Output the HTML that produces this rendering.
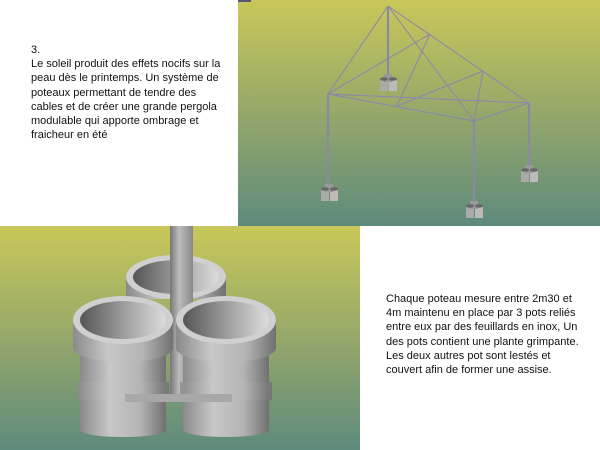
<!DOCTYPE html>
<html><head><meta charset="utf-8"><style>
html,body{margin:0;padding:0;background:#fff;}
body{width:600px;height:450px;position:relative;overflow:hidden;font-family:"Liberation Sans",sans-serif;}
.t{position:absolute;font-size:11px;line-height:14.2px;color:#111;white-space:nowrap;}
svg{position:absolute;left:0;top:0;}
</style></head><body>
<svg width="600" height="450" viewBox="0 0 600 450">
<defs>
<linearGradient id="g1" x1="0" y1="0" x2="0" y2="1"><stop offset="0" stop-color="#c9c759"/><stop offset="0.5" stop-color="#95a86a"/><stop offset="1" stop-color="#5e8a7c"/></linearGradient>
<linearGradient id="cyl" x1="0" y1="0" x2="1" y2="0"><stop offset="0" stop-color="#8a8a8a"/><stop offset="0.35" stop-color="#c8c8c8"/><stop offset="0.7" stop-color="#b4b4b4"/><stop offset="1" stop-color="#707070"/></linearGradient>
<linearGradient id="inn" x1="0" y1="0" x2="1" y2="0"><stop offset="0" stop-color="#555"/><stop offset="0.6" stop-color="#aaa"/><stop offset="1" stop-color="#ddd"/></linearGradient>
<linearGradient id="pole" x1="0" y1="0" x2="1" y2="0"><stop offset="0" stop-color="#777"/><stop offset="0.4" stop-color="#bbb"/><stop offset="1" stop-color="#888"/></linearGradient>
<g id="pot">
<rect x="-43" y="0" width="86" height="110" fill="url(#cyl)"/>
<ellipse cx="0" cy="110" rx="43" ry="7" fill="url(#cyl)"/>
<rect x="-46" y="62" width="92" height="18" fill="url(#cyl)" opacity="0.8"/>
<rect x="-50" y="0" width="100" height="28" fill="url(#cyl)"/>
<ellipse cx="0" cy="28" rx="50" ry="14" fill="url(#cyl)"/>
<ellipse cx="0" cy="0" rx="50" ry="24" fill="#d0d0d0"/>
<ellipse cx="0" cy="0" rx="43" ry="19" fill="url(#inn)"/>
</g>
<g id="sp">
<rect x="-8" y="-5" width="8" height="12" fill="#aaa"/><rect x="1" y="-5" width="8" height="12" fill="#bbb"/>
<rect x="-4" y="-10" width="8" height="8" fill="#999"/>
<ellipse cx="-4" cy="-5" rx="4" ry="1.8" fill="#666"/><ellipse cx="5" cy="-5" rx="4" ry="1.8" fill="#666"/>
</g>
</defs>
<rect x="238" y="0" width="362" height="226" fill="url(#g1)"/>
<rect x="238" y="0" width="13" height="2" fill="#557"/>
<rect x="0" y="226" width="360" height="224" fill="url(#g1)"/>
<g stroke="#8a8aa0" stroke-width="2.2"><line x1="388" y1="6" x2="388" y2="80"/><line x1="328" y1="94" x2="328" y2="190"/><line x1="474" y1="121" x2="474" y2="207"/><line x1="529" y1="103" x2="529" y2="172"/></g>
<g stroke="#8a84b0" stroke-width="1" fill="none">
<line x1="388" y1="6" x2="328" y2="94"/><line x1="388" y1="6" x2="474" y2="121"/><line x1="388" y1="6" x2="529" y2="103"/>
<line x1="328" y1="94" x2="430" y2="34"/><line x1="430" y1="34" x2="397" y2="106"/>
<line x1="328" y1="94" x2="529" y2="103"/><line x1="328" y1="94" x2="474" y2="121"/><line x1="474" y1="121" x2="529" y2="103"/>
<line x1="397" y1="106" x2="483" y2="71"/><line x1="483" y1="71" x2="474" y2="121"/>
</g>
<use href="#sp" x="388" y="84"/><use href="#sp" x="329" y="194"/><use href="#sp" x="474" y="211"/><use href="#sp" x="529" y="175"/>
<g transform="translate(176,277)"><rect x="-50" y="0" width="100" height="22" fill="url(#cyl)"/><ellipse cx="0" cy="0" rx="50" ry="22" fill="#d0d0d0"/><ellipse cx="0" cy="0" rx="43" ry="17" fill="url(#inn)"/></g>
<rect x="170" y="226" width="23" height="170" fill="url(#pole)"/>
<use href="#pot" x="123" y="320"/>
<use href="#pot" x="226" y="320"/>
<rect x="125" y="394" width="107" height="8" fill="#a8a8a8"/>
</svg>
<div class="t" style="left:31px;top:43px;">3.<br>Le soleil produit des effets nocifs sur la<br>peau dès le printemps. Un système de<br>poteaux permettant de tendre des<br>cables et de créer une grande pergola<br>modulable qui apporte ombrage et<br>fraicheur en été</div>
<div class="t" style="left:386px;top:292px;">Chaque poteau mesure entre 2m30 et<br>4m maintenu en place par 3 pots reliés<br>entre eux par des feuillards en inox, Un<br>des pots contient une plante grimpante.<br>Les deux autres pot sont lestés et<br>couvert afin de former une assise.</div>
</body></html>
